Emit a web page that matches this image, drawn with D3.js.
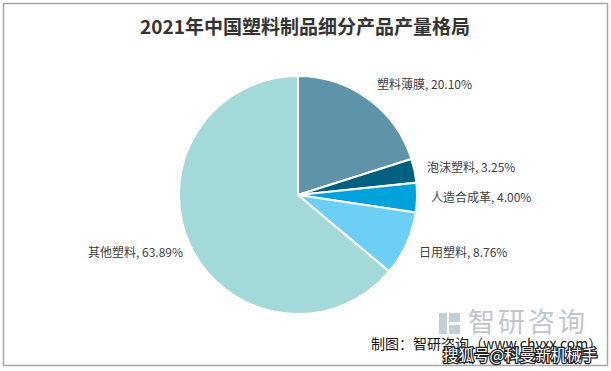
<!DOCTYPE html>
<html><head><meta charset="utf-8">
<script src="https://cdn.jsdelivr.net/npm/d3@7/dist/d3.min.js"></script>
<style>body{margin:0;background:#fff}svg{display:block}</style>
</head><body>
<svg id="c" width="611" height="371"></svg>
<script>
const categories = ["塑料薄膜","泡沫塑料","人造合成革","日用塑料","其他塑料"];
const values = [20.10, 3.25, 4.00, 8.76, 63.89];
const colors = ["#5E93A9","#00607F","#00A2DB","#6DCFF5","#A3D9D8"];
const labelPos = [[377,85],[427,168],[431,198],[419,253],[88,253]];

const svg = d3.select("#c");
const font = "'Microsoft YaHei','Noto Sans CJK SC',sans-serif";
svg.append("rect").attr("x",3.5).attr("y",3.5).attr("width",604).attr("height",362)
  .attr("fill","#fff").attr("stroke","#a6a6a6").attr("stroke-width",1.5);

svg.append("text").attr("x",305).attr("y",34).attr("text-anchor","middle")
  .attr("font-family",font).attr("font-weight","bold").attr("font-size",19)
  .attr("fill","#333").text("2021年中国塑料制品细分产品产量格局");

const cx=298, cy=195, r=119;
const pie = d3.pie().sort(null).value(d=>d);
const arc = d3.arc().innerRadius(0).outerRadius(r);
const g = svg.append("g").attr("transform",`translate(${cx},${cy})`);
g.selectAll("path").data(pie(values)).join("path")
  .attr("d",arc).attr("fill",(d,i)=>colors[i]).attr("stroke","#fff").attr("stroke-width",2);

svg.selectAll("text.lbl").data(categories).join("text").attr("class","lbl")
  .attr("x",(d,i)=>labelPos[i][0]).attr("y",(d,i)=>labelPos[i][1]).attr("dy","0.35em")
  .attr("font-family",font).attr("font-size",12).attr("fill","#404040")
  .text((d,i)=>`${d}, ${values[i].toFixed(2)}%`);

// watermark
const wm = svg.append("g");
wm.append("rect").attr("x",439).attr("y",313).attr("width",8).attr("height",21).attr("fill","#c5cdd6");
wm.append("rect").attr("x",449).attr("y",313).attr("width",11).attr("height",9).attr("fill","#c5cdd6");
wm.append("rect").attr("x",449).attr("y",325).attr("width",11).attr("height",9).attr("fill","#c5cdd6");
wm.append("text").attr("x",468).attr("y",332).attr("font-family",font).attr("font-size",27)
  .attr("fill","#c0c6cd").attr("letter-spacing",3).text("智研咨询");
wm.append("text").attr("x",371).attr("y",349).attr("font-family",font).attr("font-size",14)
  .attr("fill","#111").text("制图：智研咨询（www.chyxx.com）");
wm.append("text").attr("x",443).attr("y",361).attr("font-family",font).attr("font-size",15.5)
  .attr("fill","#fff").attr("stroke","#222").attr("stroke-width",2.5)
  .attr("paint-order","stroke").text("搜狐号@科曼新机械手");
</script>
</body></html>
